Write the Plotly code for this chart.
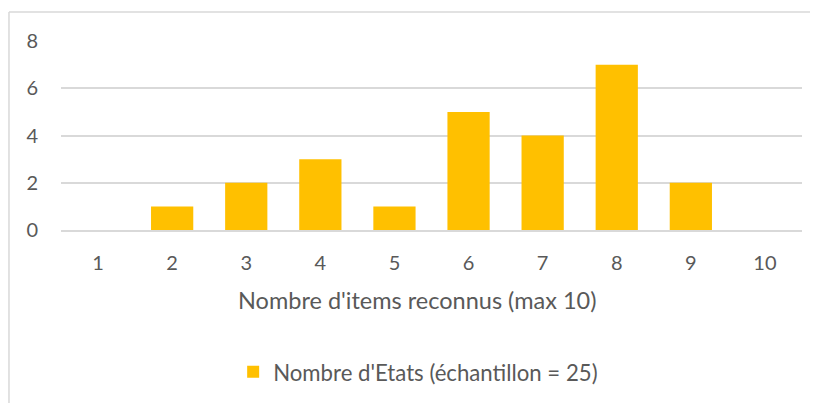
import plotly.graph_objects as go

categories = ["1", "2", "3", "4", "5", "6", "7", "8", "9", "10"]
values = [0, 1, 2, 3, 1, 5, 4, 7, 2, 0]
series_name = "Nombre d'Etats (échantillon = 25)"
x_title = "Nombre d'items reconnus (max 10)"
y_ticks = [0, 2, 4, 6, 8]

FONT = "Lato, Calibri, Carlito, sans-serif"
GREY = "#595959"

fig = go.Figure()
fig.add_trace(go.Bar(x=categories, y=values, name=series_name,
                     marker=dict(color="#FFC000", line=dict(width=0)),
                     showlegend=True))

# page body has an 8px default margin, so the figure is sized/offset accordingly
fig.update_layout(
    width=810, height=395,
    margin=dict(l=53, r=16, t=33, b=173, autoexpand=False),
    paper_bgcolor="white", plot_bgcolor="white",
    bargap=0.43,
    font=dict(family=FONT, color=GREY, size=20),
    showlegend=True,
    legend=dict(orientation="h", x=0.482, xanchor="center", y=-0.751, yanchor="middle",
                font=dict(size=22.2, color=GREY), itemwidth=30),
    xaxis=dict(type="category", showgrid=False, showline=True, linecolor="#d9d9d9",
               linewidth=1.5, ticks="", tickfont=dict(size=20, color=GREY),
               ticklabelstandoff=14, automargin=False),
    yaxis=dict(range=[0, 8], tickvals=y_ticks, showgrid=True, gridcolor="#d9d9d9",
               gridwidth=1.5, zeroline=False, showline=False, ticks="", automargin=False,
               tickfont=dict(size=20, color=GREY), ticklabelstandoff=22),
    annotations=[
        dict(text=x_title, xref="paper", yref="paper", x=0.481, y=-0.37,
             xanchor="center", yanchor="middle", showarrow=False,
             font=dict(size=23.5, color=GREY, family=FONT)),
    ],
    shapes=[
        dict(type="line", xref="paper", yref="paper", x0=-0.0702, x1=1.03, y0=1.153, y1=1.153,
             line=dict(color="#d9d9d9", width=1.5)),
        dict(type="line", xref="paper", yref="paper", x0=-0.0702, x1=-0.0702, y0=1.153, y1=-1.0,
             line=dict(color="#d9d9d9", width=1.5)),
    ],
)

fig.write_html("out.html")
